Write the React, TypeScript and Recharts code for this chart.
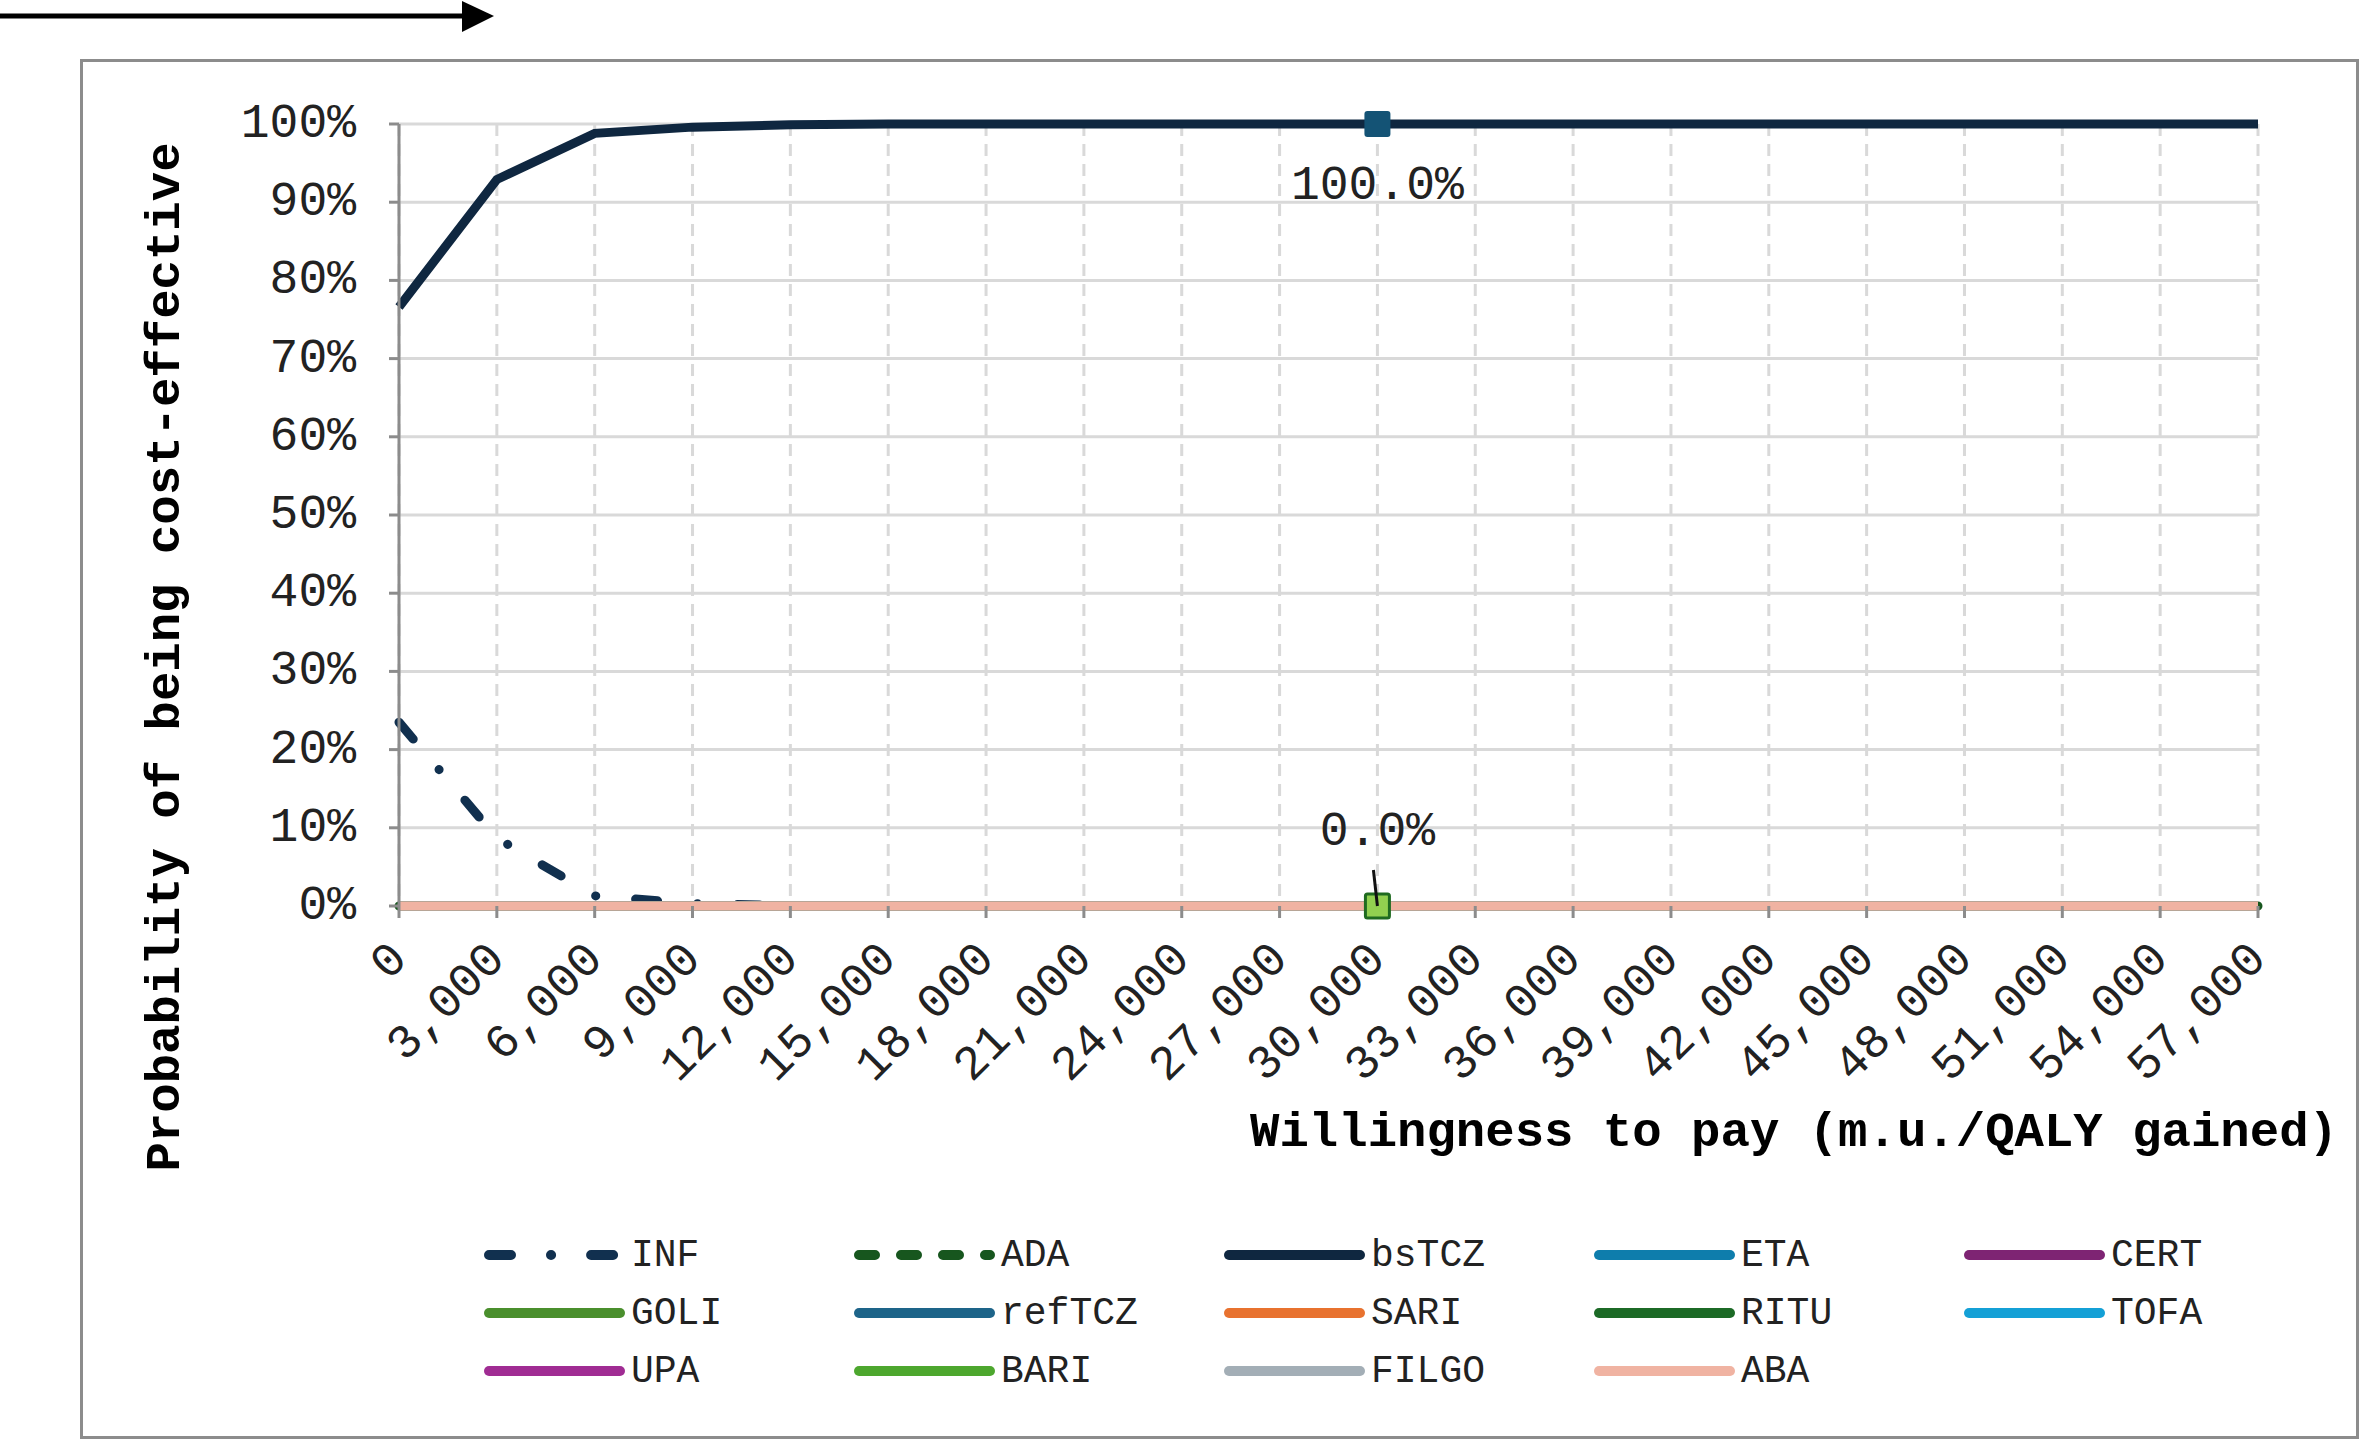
import React from 'react';
import { LineChart, Line, XAxis, YAxis, CartesianGrid, Legend, Label } from 'recharts';

const FONT = '"Liberation Mono", "Courier New", monospace';

// willingness to pay (m.u./QALY gained)
const wtpValues = [0, 3000, 6000, 9000, 12000, 15000, 18000, 21000, 24000, 27000, 30000, 33000, 36000, 39000, 42000, 45000, 48000, 51000, 54000, 57000];

// probability of being cost-effective (%)
const infValues = [23.5, 8.7, 1.3, 0.3, 0.05, 0, 0, 0, 0, 0, 0, 0, 0, 0, 0, 0, 0, 0, 0, 0];
const bsTczValues = [76.6, 92.9, 98.8, 99.6, 99.9, 100, 100, 100, 100, 100, 100, 100, 100, 100, 100, 100, 100, 100, 100, 100];
const zeroValues = [0, 0, 0, 0, 0, 0, 0, 0, 0, 0, 0, 0, 0, 0, 0, 0, 0, 0, 0, 0];

const yTicks = [0, 10, 20, 30, 40, 50, 60, 70, 80, 90, 100];
const labelledWtp = 30000;

const seriesList = [
  { key: 'INF', color: '#11304F', values: infValues, dash: '22 40 0.1 40' },
  { key: 'ADA', color: '#17561E', values: zeroValues, dash: '16 26' },
  { key: 'bsTCZ', color: '#0F2740', values: bsTczValues },
  { key: 'ETA', color: '#0E7DAC', values: zeroValues },
  { key: 'CERT', color: '#7E2473', values: zeroValues },
  { key: 'GOLI', color: '#4A8F2D', values: zeroValues },
  { key: 'refTCZ', color: '#1D6489', values: zeroValues },
  { key: 'SARI', color: '#E8722F', values: zeroValues },
  { key: 'RITU', color: '#1C6A26', values: zeroValues },
  { key: 'TOFA', color: '#14A0D6', values: zeroValues },
  { key: 'UPA', color: '#A02C93', values: zeroValues },
  { key: 'BARI', color: '#4DA72E', values: zeroValues },
  { key: 'FILGO', color: '#A3AEB6', values: zeroValues },
  { key: 'ABA', color: '#F0B3A2', values: zeroValues },
];

const data = wtpValues.map((wtp, i) => {
  const row: any = { wtp };
  seriesList.forEach((s) => { row[s.key] = s.values[i]; });
  return row;
});

const XTick = ({ x, y, payload }: any) => {
  const tx = x + 10;
  const ty = y + 41;
  return (
    <text x={tx} y={ty} transform={`rotate(-45 ${tx} ${ty})`} textAnchor="end"
      fontFamily={FONT} fontSize={48} fill="#222">
      {Number(payload.value).toLocaleString('en-US')}
    </text>
  );
};

const YTick = ({ x, y, payload }: any) => (
  <text x={x} y={y} textAnchor="end" dominantBaseline="central" fontFamily={FONT} fontSize={48} fill="#222">
    {payload.value}%
  </text>
);

const bsDot = (props: any) => {
  const { cx, cy, payload, value, index } = props;
  if (payload.wtp !== labelledWtp) return <g key={`bs-${index}`} />;
  return (
    <g key={`bs-${index}`}>
      <rect x={cx - 13} y={cy - 13} width={26} height={26} rx={3} fill="#145375" />
      <text x={cx} y={cy + 62} textAnchor="middle" dominantBaseline="central" fontFamily={FONT} fontSize={48} fill="#222">
        {Number(value).toFixed(1)}%
      </text>
    </g>
  );
};

const bariDot = (props: any) => {
  const { cx, cy, payload, index } = props;
  if (payload.wtp !== labelledWtp) return <g key={`bari-${index}`} />;
  return <rect key={`bari-${index}`} x={cx - 12} y={cy - 12} width={24} height={24} rx={2} fill="#92D050" stroke="#1F6B20" strokeWidth={3} />;
};

const abaDot = (props: any) => {
  const { cx, cy, payload, value, index } = props;
  if (payload.wtp !== labelledWtp) return <g key={`aba-${index}`} />;
  return (
    <g key={`aba-${index}`}>
      <line x1={cx - 4} y1={cy - 36} x2={cx} y2={cy} stroke="#111" strokeWidth={3} />
      <text x={cx} y={cy - 74} textAnchor="middle" dominantBaseline="central" fontFamily={FONT} fontSize={48} fill="#222">
        {Number(value).toFixed(1)}%
      </text>
    </g>
  );
};

const dotFor = (key: string) => {
  if (key === 'bsTCZ') return bsDot;
  if (key === 'BARI') return bariDot;
  if (key === 'ABA') return abaDot;
  return false;
};

const LegendGrid = () => (
  <div style={{ display: 'grid', gridTemplateColumns: 'repeat(5, 370px)', fontFamily: FONT, fontSize: 38, color: '#222' }}>
    {seriesList.map((s) => (
      <div key={s.key} style={{ display: 'flex', alignItems: 'center', height: 58 }}>
        <svg width={147} height={20} style={{ flex: 'none' }}>
          <line x1={5} y1={10} x2={136} y2={10} stroke={s.color} strokeWidth={10}
            strokeLinecap="round" strokeDasharray={s.dash} />
        </svg>
        <span>{s.key}</span>
      </div>
    ))}
  </div>
);

export default function App() {
  return (
    <div style={{ position: 'absolute', left: 0, top: 0, width: 2368, height: 1444, background: '#fff', overflow: 'hidden' }}>
      <svg width={520} height={40} style={{ position: 'absolute', left: 0, top: 0 }}>
        <line x1={0} y1={16} x2={470} y2={16} stroke="#000" strokeWidth={5} />
        <polygon points="462,1 494,16 462,32" fill="#000" />
      </svg>
      <div style={{ position: 'absolute', left: 80, top: 59, width: 2279, height: 1380, border: '3px solid #8c8c8c', boxSizing: 'border-box' }} />
      <div style={{ position: 'absolute', left: 0, top: 0 }}>
        <LineChart width={2368} height={1444} data={data} margin={{ top: 124, right: 110, left: 0, bottom: 338 }}>
          <CartesianGrid vertical={false} stroke="#d9d9d9" strokeWidth={3} />
          <CartesianGrid horizontal={false} stroke="#d9d9d9" strokeWidth={3} strokeDasharray="12 8" />
          <XAxis dataKey="wtp" interval={0} height={200} tick={<XTick />} tickSize={12}
            axisLine={false} tickLine={{ stroke: '#8c8c8c', strokeWidth: 3 }}>
            <Label content={() => (
              <text x={2338} y={1133} textAnchor="end" dominantBaseline="central" fontFamily={FONT}
                fontSize={49} fontWeight="bold" fill="#000">Willingness to pay (m.u./QALY gained)</text>
            )} />
          </XAxis>
          <YAxis width={399} domain={[0, 100]} ticks={yTicks} interval={0} tick={<YTick />}
            tickSize={10} tickMargin={33} axisLine={{ stroke: '#8c8c8c', strokeWidth: 3 }}
            tickLine={{ stroke: '#8c8c8c', strokeWidth: 3 }}>
            <Label content={() => (
              <text x={166} y={657} transform="rotate(-90 166 657)" textAnchor="middle" dominantBaseline="central"
                fontFamily={FONT} fontSize={49} fontWeight="bold" fill="#000">Probability of being cost-effective</text>
            )} />
          </YAxis>
          {seriesList.map((s) => (
            <Line key={s.key} type="linear" dataKey={s.key} stroke={s.color} strokeWidth={9}
              strokeDasharray={s.dash} strokeLinecap={s.dash ? 'round' : 'butt'}
              dot={dotFor(s.key) as any} activeDot={false} isAnimationActive={false} />
          ))}
          <Legend content={<LegendGrid />} layout="vertical" align="center" verticalAlign="middle"
            wrapperStyle={{ left: 484, top: 1226, width: 1880, height: 180 }} />
        </LineChart>
      </div>
    </div>
  );
}
